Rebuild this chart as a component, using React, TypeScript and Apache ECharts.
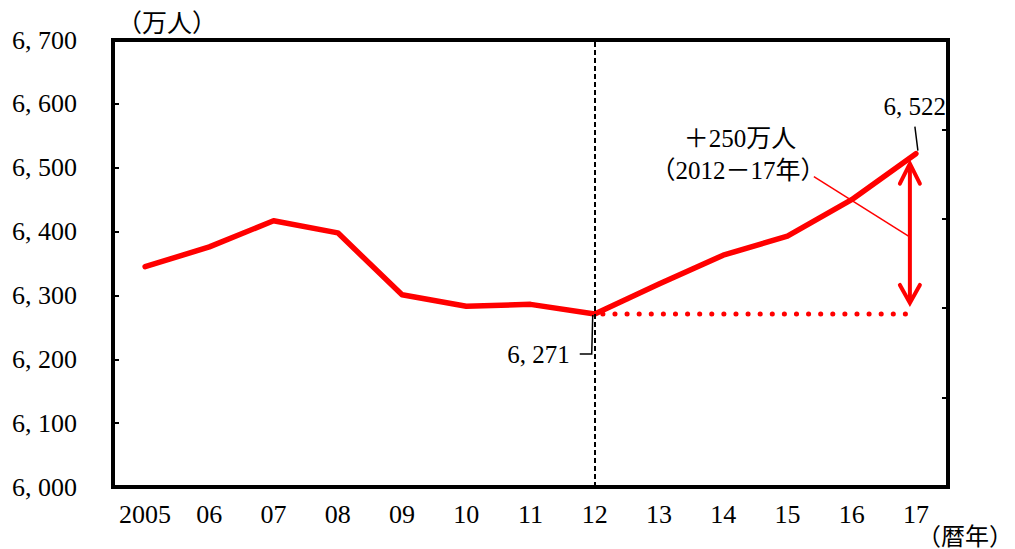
import React, { useEffect, useRef } from "react";
import * as echarts from "echarts";

// ---- data ----
const years = ["2005", "06", "07", "08", "09", "10", "11", "12", "13", "14", "15", "16", "17"];
const employed = [6345, 6376, 6417, 6398, 6301, 6283, 6286, 6271, 6318, 6363, 6393, 6450, 6522];
const baseline2012 = [null, null, null, null, null, null, null, 6271, 6271, 6271, 6271, 6271, 6271];
const yMin = 6000;
const yMax = 6700;
const yStep = 100;
const rightTicks = 5;
const unitLabel = "（万人）";
const xUnitLabel = "（暦年）";
const diffLines = ["＋250万人", "（2012－17年）"];
const startIdx = 7;
const endIdx = 12;
const startLabel = "6, 271";
const endLabel = "6, 522";

const fmt = (v: number) => `${Math.floor(v / 1000)}, ${String(v % 1000).padStart(3, "0")}`;

const FONT = "'Liberation Serif', 'Noto Sans CJK JP', serif";
const RED = "#FF0000";

export default function App() {
  const ref = useRef<HTMLDivElement>(null);
  useEffect(() => {
    if (!ref.current) return;
    const chart = echarts.init(ref.current, undefined, { renderer: "svg" });
    chart.setOption({
      animation: false,
      backgroundColor: "#fff",
      grid: {
        left: 113,
        right: 67,
        top: 40,
        bottom: 62,
        show: true,
        borderColor: "#000",
        borderWidth: 4,
        backgroundColor: "transparent",
      },
      xAxis: {
        type: "category",
        data: years,
        boundaryGap: true,
        axisLine: { show: false },
        axisTick: { show: false },
        axisLabel: { color: "#000", fontFamily: FONT, fontSize: 26, margin: 14, interval: 0 },
        splitLine: { show: false },
      },
      yAxis: [
        {
          type: "value",
          min: yMin,
          max: yMax,
          interval: yStep,
          axisLine: { show: false },
          axisTick: { show: true, inside: true, length: 6, lineStyle: { color: "#000", width: 2 } },
          axisLabel: { color: "#000", fontFamily: FONT, fontSize: 26, margin: 36, formatter: fmt },
          splitLine: { show: false },
        },
        {
          type: "value",
          min: 0,
          max: rightTicks,
          interval: 1,
          position: "right",
          axisLine: { show: false },
          axisTick: { show: true, inside: true, length: 6, lineStyle: { color: "#000", width: 2 } },
          axisLabel: { show: false },
          splitLine: { show: false },
        },
      ],
      series: [
        {
          type: "line",
          data: baseline2012,
          symbol: "none",
          connectNulls: false,
          lineStyle: { color: RED, width: 5, type: [0.1, 12], cap: "round", dashOffset: 4 },
          z: 2,
        },
        {
          type: "line",
          data: employed,
          symbol: "none",
          lineStyle: { color: RED, width: 5.5, join: "round", cap: "round" },
          z: 3,
          markLine: {
            silent: true,
            symbol: ["none", "none"],
            label: { show: false },
            lineStyle: { color: "#000", width: 2, type: [5, 3] },
            emphasis: { disabled: true },
            data: [{ xAxis: years[startIdx] }],
          },
        },
      ],
    });

    const px = (i: number, v: number) =>
      chart.convertToPixel({ xAxisIndex: 0, yAxisIndex: 0 }, [i, v]) as number[];
    const pS = px(startIdx, employed[startIdx]);
    const pE = px(endIdx, employed[endIdx]);
    const ax = pE[0] - 6;
    const aTop = pE[1] + 10;
    const aBot = pS[1] - 11;
    const textStyle = (text: string, x: number, y: number, align = "center", size = 25) => ({
      type: "text",
      x,
      y,
      style: {
        text,
        fill: "#000",
        font: `${size}px ${FONT}`,
        align,
        verticalAlign: "middle",
      },
      z: 10,
    });
    chart.setOption({
      graphic: [
        textStyle(unitLabel, 167, 23),
        textStyle(xUnitLabel, 1013, 537, "right", 24),
        textStyle(diffLines[0], 740, 138),
        textStyle(diffLines[1], 738, 170),
        textStyle(endLabel, pE[0] + 30, pE[1] - 47, "right"),
        textStyle(startLabel, pS[0] - 25, pS[1] + 41, "right"),
        {
          type: "line",
          shape: { x1: pE[0] - 1, y1: pE[1] - 27, x2: pE[0] + 2, y2: pE[1] - 3 },
          style: { stroke: "#000", lineWidth: 1.5 },
          z: 10,
        },
        {
          type: "polyline",
          shape: {
            points: [
              [pS[0] - 15, pS[1] + 40],
              [pS[0] - 3, pS[1] + 40],
              [pS[0] - 2, pS[1] + 1],
            ],
          },
          style: { stroke: "#000", lineWidth: 1.5, fill: null },
          z: 10,
        },
        {
          type: "line",
          shape: { x1: ax - 96, y1: pE[1] + 23, x2: ax - 1, y2: (aTop + aBot) / 2 + 3 },
          style: { stroke: RED, lineWidth: 1.5 },
          z: 10,
        },
        {
          type: "line",
          shape: { x1: ax, y1: aTop + 2, x2: ax, y2: aBot - 2 },
          style: { stroke: RED, lineWidth: 4 },
          z: 10,
        },
        {
          type: "polyline",
          shape: { points: [[ax - 10, aTop + 20], [ax, aTop], [ax + 10, aTop + 20]] },
          style: { stroke: RED, lineWidth: 4, fill: null, lineJoin: "miter", lineCap: "round" },
          z: 10,
        },
        {
          type: "polyline",
          shape: { points: [[ax - 10, aBot - 18], [ax, aBot], [ax + 10, aBot - 18]] },
          style: { stroke: RED, lineWidth: 4, fill: null, lineJoin: "miter", lineCap: "round" },
          z: 10,
        },
      ],
    });
    return () => chart.dispose();
  }, []);
  return (
    <div
      ref={ref}
      style={{ position: "fixed", left: 0, top: 0, width: 1015, height: 549 }}
    />
  );
}
